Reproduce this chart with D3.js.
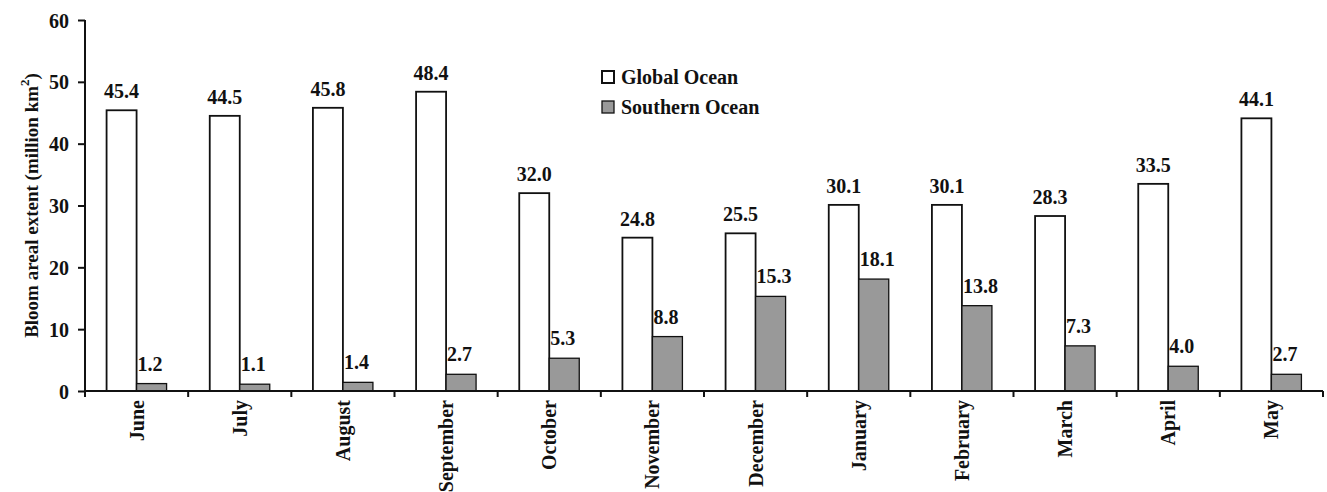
<!DOCTYPE html>
<html><head><meta charset="utf-8">
<script src="https://cdn.jsdelivr.net/npm/d3@7"></script>
<style>body{margin:0;background:#fff}svg{display:block}text{font-family:"Liberation Serif","Times New Roman",serif;font-weight:bold;fill:#111}</style>
</head><body>
<script>
const months = ["June","July","August","September","October","November","December","January","February","March","April","May"];
const globalOcean = [45.4,44.5,45.8,48.4,32.0,24.8,25.5,30.1,30.1,28.3,33.5,44.1];
const southernOcean = [1.2,1.1,1.4,2.7,5.3,8.8,15.3,18.1,13.8,7.3,4.0,2.7];
const yTicks = [0,10,20,30,40,50,60];
const seriesNames = ["Global Ocean","Southern Ocean"];

const W=1327,H=492;
const mLeft=85,mRight=1323,mTop=20,mBottom=391;
const svg=d3.select("body").append("svg").attr("width",W).attr("height",H);
const x=d3.scaleBand().domain(months).range([mLeft,mRight]).padding(0);
const y=d3.scaleLinear().domain([0,60]).range([mBottom,mTop]);
const barW=30;
const colors=["#ffffff","#999999"];
const fs="20px";

// bars
months.forEach((m,i)=>{
  const c=x(m)+x.bandwidth()/2;
  svg.append("rect").attr("x",c-barW).attr("y",y(globalOcean[i])).attr("width",barW).attr("height",y(0)-y(globalOcean[i]))
    .attr("fill",colors[0]).attr("stroke","#111").attr("stroke-width",1.8);
  svg.append("rect").attr("x",c).attr("y",y(southernOcean[i])).attr("width",barW).attr("height",y(0)-y(southernOcean[i]))
    .attr("fill",colors[1]).attr("stroke","#111").attr("stroke-width",1.3);
  svg.append("text").attr("x",c-barW/2).attr("y",y(globalOcean[i])-12).attr("text-anchor","middle").style("font-size",fs).text(globalOcean[i].toFixed(1));
  svg.append("text").attr("x",c+1).attr("y",y(southernOcean[i])-13).attr("text-anchor","start").style("font-size",fs).text(southernOcean[i].toFixed(1));
});

// y axis
const ya=svg.append("g").attr("transform",`translate(${mLeft},0)`).call(d3.axisLeft(y).tickValues(yTicks).tickSize(7).tickSizeOuter(0));
ya.select(".domain").attr("stroke","#111").attr("stroke-width",2).attr("d",`M0,${mTop}V${mBottom}`);
ya.selectAll(".tick line").attr("stroke","#111").attr("stroke-width",2);
ya.selectAll(".tick text").style("font-size",fs).attr("x",-16).attr("dy","0.35em").style("font-family",'"Liberation Serif",serif').style("font-weight","bold").attr("fill","#111");

// x axis
svg.append("line").attr("x1",mLeft).attr("x2",mRight).attr("y1",mBottom).attr("y2",mBottom).attr("stroke","#111").attr("stroke-width",2);
const bounds=months.map(m=>x(m)).concat([mRight]);
svg.selectAll(".xt").data(bounds).enter().append("line").attr("x1",d=>d).attr("x2",d=>d).attr("y1",mBottom).attr("y2",mBottom+6).attr("stroke","#111").attr("stroke-width",2);
months.forEach(m=>{
  const c=x(m)+x.bandwidth()/2;
  svg.append("text").attr("transform",`translate(${c+7},${mBottom+9}) rotate(-90)`).attr("text-anchor","end").style("font-size",fs).text(m);
});

// y title
const yt=svg.append("text").attr("transform",`translate(38,${(mTop+mBottom)/2}) rotate(-90)`).attr("text-anchor","middle").style("font-size","19px");
yt.append("tspan").text("Bloom areal extent (million km");
yt.append("tspan").attr("dy","-9").style("font-size","13px").text("2");
yt.append("tspan").attr("dy","9").text(")");

// legend
seriesNames.forEach((s,i)=>{
  const ly=71+i*30;
  svg.append("rect").attr("x",602).attr("y",ly).attr("width",12).attr("height",12).attr("fill",colors[i]).attr("stroke","#111").attr("stroke-width",i?1.3:2);
  svg.append("text").attr("x",621).attr("y",ly+13).style("font-size",fs).text(s);
});
</script>
</body></html>
